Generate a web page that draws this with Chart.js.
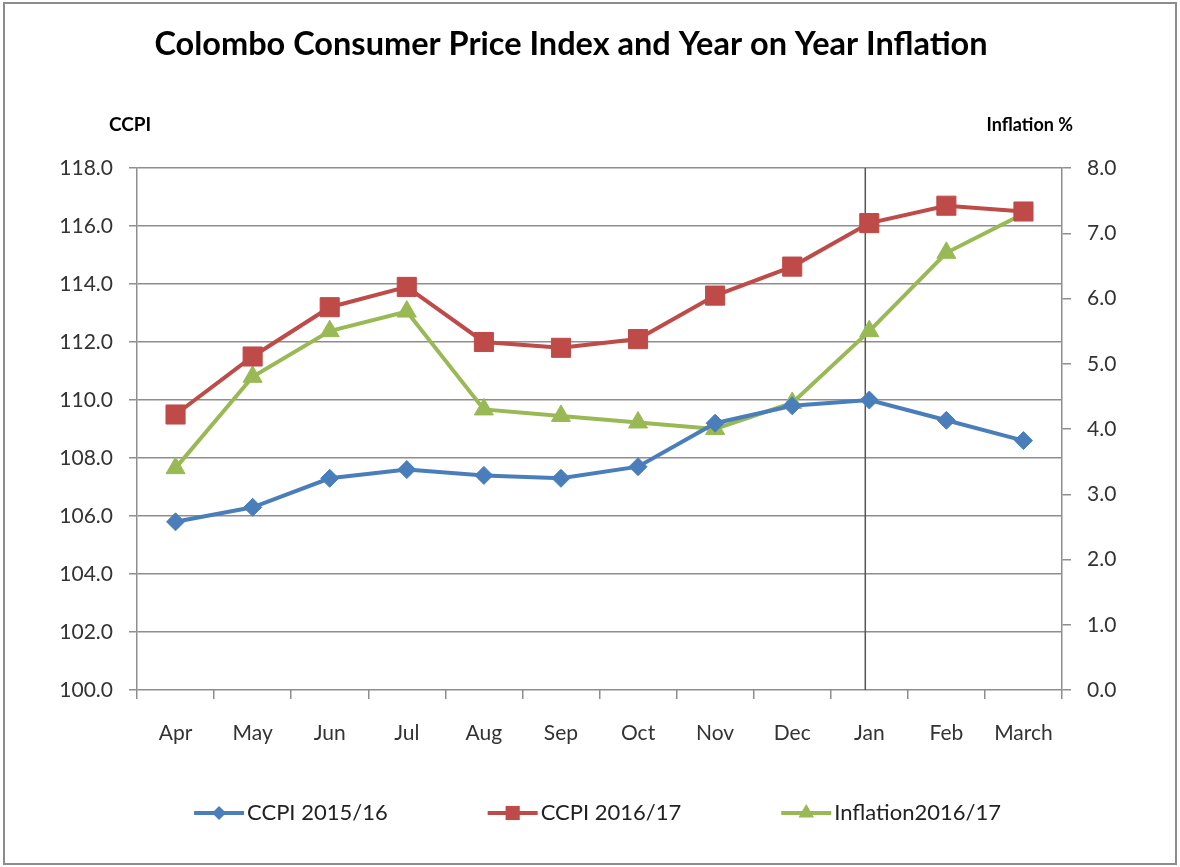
<!DOCTYPE html>
<html>
<head>
<meta charset="utf-8">
<script src="https://cdn.jsdelivr.net/npm/chart.js"></script>
<style>
html,body{margin:0;padding:0;background:#fff;}
#wrap{position:relative;width:1180px;height:867px;overflow:hidden;background:#fff;}
#frame{position:absolute;left:3px;top:2px;width:1174px;height:863px;border:2px solid #8c8c8c;box-sizing:border-box;pointer-events:none;}
canvas{position:absolute;left:0;top:0;}
</style>
</head>
<body>
<div id="wrap"><canvas id="c" width="1180" height="867"></canvas><div id="frame"></div></div>
<script>
// ---- data ----
const months = ['Apr','May','Jun','Jul','Aug','Sep','Oct','Nov','Dec','Jan','Feb','March'];
const ccpi1516 = [105.8, 106.3, 107.3, 107.6, 107.4, 107.3, 107.7, 109.2, 109.8, 110.0, 109.3, 108.6];
const ccpi1617 = [109.5, 111.5, 113.2, 113.9, 112.0, 111.8, 112.1, 113.6, 114.6, 116.1, 116.7, 116.5];
const inflation1617 = [3.4, 4.8, 5.5, 5.8, 4.3, 4.2, 4.1, 4.0, 4.4, 5.5, 6.7, 7.3];
const seriesNames = ['CCPI 2015/16', 'CCPI 2016/17', 'Inflation2016/17'];
const chartTitle = 'Colombo Consumer Price Index and Year on Year Inflation';
const leftAxisTitle = 'CCPI';
const rightAxisTitle = 'Inflation %';
const leftTicks = {min: 100, max: 118, step: 2};
const rightTicks = {min: 0, max: 8, step: 1};
const markerMonth = 'Jan';

const FONT = 'Lato, "Open Sans", "DejaVu Sans", sans-serif';
const GRID = '#8e8e8e';
const COLORS = ['#4A7EBB', '#BE4B48', '#98B954'];

function drawMarker(ctx, style, x, y, r) {
  ctx.beginPath();
  if (style === 'rectRot') {
    ctx.moveTo(x, y - r); ctx.lineTo(x + r, y); ctx.lineTo(x, y + r); ctx.lineTo(x - r, y);
  } else if (style === 'rect') {
    const s = r * Math.SQRT1_2;
    ctx.rect(x - s, y - s, 2 * s, 2 * s);
  } else {
    const w = r * Math.sin(Math.PI / 3);
    ctx.moveTo(x, y - r); ctx.lineTo(x + w, y + r / 2); ctx.lineTo(x - w, y + r / 2);
  }
  ctx.closePath();
  ctx.fill();
}

const extras = {
  id: 'extras',
  beforeDatasetsDraw(chart) {
    const {ctx, chartArea: a, scales: {x}} = chart;
    const px = x.getPixelForValue(months.indexOf(markerMonth)) - 4;
    ctx.save();
    ctx.strokeStyle = '#555';
    ctx.lineWidth = 1.5;
    ctx.beginPath();
    ctx.moveTo(px, a.top);
    ctx.lineTo(px, a.bottom);
    ctx.stroke();
    ctx.restore();
  },
  afterDraw(chart) {
    const {ctx, chartArea: a} = chart;
    ctx.save();
    ctx.fillStyle = '#000';
    ctx.textBaseline = 'middle';
    // title
    ctx.font = 'bold 32.5px ' + FONT;
    ctx.textAlign = 'center';
    ctx.fillText(chartTitle, a.left + 434, 45);
    // axis titles
    ctx.font = 'bold 19px ' + FONT;
    ctx.fillText(leftAxisTitle, a.left - 7, a.top - 43);
    ctx.font = 'bold 18px ' + FONT;
    ctx.textAlign = 'right';
    ctx.fillText(rightAxisTitle, a.right + 11, a.top - 43);

    // legend
    ctx.font = '22px ' + FONT;
    const ds = chart.data.datasets;
    const lineLen = 50, gapText = 3, gapItem = 100;
    const widths = ds.map(d => lineLen + gapText + ctx.measureText(d.label).width);
    const total = widths.reduce((s, w) => s + w, 0) + gapItem * (ds.length - 1);
    let xPos = (a.left + a.right) / 2 - 2 - total / 2;
    const yPos = 813;
    const legendR = {rectRot: 7, rect: 10, triangle: 9};
    ds.forEach((d, i) => {
      ctx.strokeStyle = d.borderColor;
      ctx.fillStyle = d.borderColor;
      ctx.lineWidth = 4;
      ctx.beginPath();
      ctx.moveTo(xPos, yPos);
      ctx.lineTo(xPos + lineLen, yPos);
      ctx.stroke();
      drawMarker(ctx, d.pointStyle, xPos + lineLen / 2, yPos, legendR[d.pointStyle]);
      ctx.fillStyle = '#222';
      ctx.textAlign = 'left';
      ctx.fillText(d.label, xPos + lineLen + gapText, yPos);
      xPos += widths[i] + gapItem;
    });
    ctx.restore();
  }
};

const tickFont = {family: FONT, size: 21};

new Chart(document.getElementById('c'), {
  type: 'line',
  data: {
    labels: months,
    datasets: [
      {label: seriesNames[0], data: ccpi1516, yAxisID: 'y', borderColor: COLORS[0], backgroundColor: COLORS[0],
       borderWidth: 4, pointStyle: 'rectRot', pointRadius: 9, pointHoverRadius: 9, pointBorderWidth: 1, tension: 0},
      {label: seriesNames[1], data: ccpi1617, yAxisID: 'y', borderColor: COLORS[1], backgroundColor: COLORS[1],
       borderWidth: 4, pointStyle: 'rect', pointRadius: 13.5, pointHoverRadius: 13.5, pointBorderWidth: 1, tension: 0},
      {label: seriesNames[2], data: inflation1617, yAxisID: 'y1', borderColor: COLORS[2], backgroundColor: COLORS[2],
       borderWidth: 4, pointStyle: 'triangle', pointRadius: 11, pointHoverRadius: 11, pointBorderWidth: 1, tension: 0}
    ]
  },
  options: {
    responsive: false,
    animation: false,
    devicePixelRatio: 1,
    layout: {padding: {left: 0, right: 0, top: 168, bottom: 0}},
    plugins: {
      legend: {display: false},
      tooltip: {enabled: false},
      title: {display: false}
    },
    scales: {
      x: {
        offset: true,
        grid: {offset: true, drawOnChartArea: false, drawTicks: true, tickLength: 9, color: GRID, lineWidth: 1.5},
        border: {display: false},
        ticks: {font: tickFont, color: '#333', padding: 22, maxRotation: 0, autoSkip: false},
        afterFit(s) { s.height = 177; }
      },
      y: {
        position: 'left', min: leftTicks.min, max: leftTicks.max,
        ticks: {stepSize: leftTicks.step, callback: v => Number(v).toFixed(1), font: tickFont, color: '#333', padding: 16},
        grid: {color: GRID, lineWidth: 1.5, tickLength: 8},
        border: {color: GRID, width: 1.5},
        afterFit(s) { s.width = 137; }
      },
      y1: {
        position: 'right', min: rightTicks.min, max: rightTicks.max,
        ticks: {stepSize: rightTicks.step, callback: v => Number(v).toFixed(1), font: tickFont, color: '#333', padding: 16},
        grid: {drawOnChartArea: false, color: GRID, lineWidth: 1.5, tickLength: 9},
        border: {color: GRID, width: 1.5},
        afterFit(s) { s.width = 118; }
      }
    }
  },
  plugins: [extras]
});
</script>
</body>
</html>
